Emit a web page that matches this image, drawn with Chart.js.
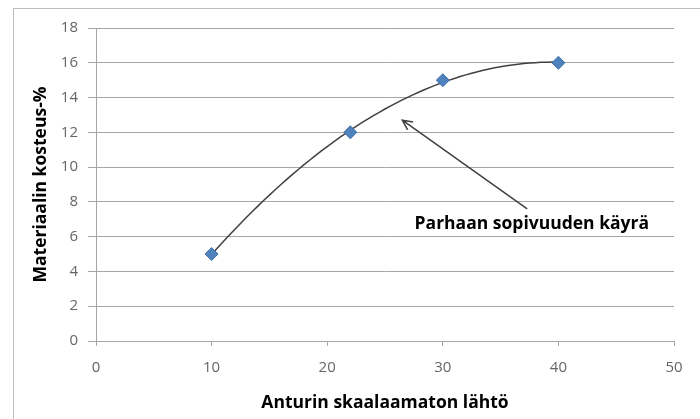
<!DOCTYPE html>
<html>
<head>
<meta charset="utf-8">
<script src="https://cdn.jsdelivr.net/npm/chart.js@4"></script>
<style>
  html, body { margin: 0; padding: 0; background: #fff; }
  #wrap { width: 700px; height: 419px; position: relative; }
</style>
</head>
<body>
<div id="wrap"><canvas id="myChart"></canvas></div>
<script>
// measured points
const sensorOutput = [10, 22, 30, 40];
const moisture = [5, 12, 15, 16];
const xTicks = [0, 10, 20, 30, 40, 50];
const yTicks = [0, 2, 4, 6, 8, 10, 12, 14, 16, 18];

const fontFamily = '"Open Sans", sans-serif';

// least squares 2nd order fit, like an Excel polynomial trendline
function quadFit(xs, ys) {
  let s = [0, 0, 0, 0, 0], t = [0, 0, 0];
  for (let i = 0; i < xs.length; i++) {
    let p = 1;
    for (let k = 0; k < 5; k++) { s[k] += p; if (k < 3) t[k] += p * ys[i]; p *= xs[i]; }
  }
  const m = [[s[0], s[1], s[2], t[0]], [s[1], s[2], s[3], t[1]], [s[2], s[3], s[4], t[2]]];
  for (let c = 0; c < 3; c++) {
    for (let r = c + 1; r < 3; r++) {
      const f = m[r][c] / m[c][c];
      for (let k = c; k < 4; k++) m[r][k] -= f * m[c][k];
    }
  }
  const b = [0, 0, 0];
  for (let r = 2; r >= 0; r--) {
    let v = m[r][3];
    for (let k = r + 1; k < 3; k++) v -= m[r][k] * b[k];
    b[r] = v / m[r][r];
  }
  return x => b[0] + b[1] * x + b[2] * x * x;
}

const fit = quadFit(sensorOutput, moisture);
const trend = [];
const x0 = sensorOutput[0], x1 = sensorOutput[sensorOutput.length - 1];
for (let i = 0; i <= 60; i++) {
  const x = x0 + (x1 - x0) * i / 60;
  trend.push({x: x, y: fit(x)});
}

// annotation (data coordinates)
const arrowTail = {x: 37.3, y: 7.6};
const arrowTip = {x: 26.5, y: 12.7};
const labelPos = {x: 37.7, y: 6.75};
const labelText = 'Parhaan sopivuuden käyrä';

const frame = {
  id: 'frame',
  beforeDraw(chart) {
    const ctx = chart.ctx;
    ctx.save();
    ctx.fillStyle = '#fff';
    ctx.fillRect(0, 0, chart.width, chart.height);
    ctx.strokeStyle = '#bfbfbf';
    ctx.lineWidth = 1;
    ctx.strokeRect(13.5, 8.5, chart.width + 20, chart.height + 20);
    ctx.restore();
  }
};

const note = {
  id: 'note',
  afterDatasetsDraw(chart) {
    const ctx = chart.ctx, xs = chart.scales.x, ys = chart.scales.y;
    const tx = xs.getPixelForValue(arrowTail.x), ty = ys.getPixelForValue(arrowTail.y);
    const hx = xs.getPixelForValue(arrowTip.x), hy = ys.getPixelForValue(arrowTip.y);
    ctx.save();
    ctx.strokeStyle = '#404040';
    ctx.lineWidth = 1.5;
    ctx.beginPath();
    ctx.moveTo(tx, ty);
    ctx.lineTo(hx, hy);
    const a = Math.atan2(ty - hy, tx - hx);
    const len = 11;
    ctx.moveTo(hx + len * Math.cos(a - 0.45), hy + len * Math.sin(a - 0.45));
    ctx.lineTo(hx, hy);
    ctx.lineTo(hx + len * Math.cos(a + 0.45), hy + len * Math.sin(a + 0.45));
    ctx.stroke();
    ctx.fillStyle = '#000';
    ctx.font = 'bold 17.5px ' + fontFamily;
    ctx.textAlign = 'center';
    ctx.textBaseline = 'middle';
    ctx.fillText(labelText, xs.getPixelForValue(labelPos.x), ys.getPixelForValue(labelPos.y));
    ctx.restore();
  }
};

const data = {
  datasets: [{
    label: 'Mittaukset',
    data: sensorOutput.map((x, i) => ({x: x, y: moisture[i]})),
    showLine: false,
    pointStyle: 'rectRot',
    pointRadius: 6.5,
    pointBackgroundColor: '#4f81bd',
    pointBorderColor: '#3d6fa8',
    pointBorderWidth: 1,
    order: 1
  }, {
    label: 'Trendi',
    data: trend,
    showLine: true,
    pointRadius: 0,
    borderColor: '#404040',
    borderWidth: 1.5,
    tension: 0,
    order: 2
  }]
};

const config = {
  type: 'scatter',
  data: data,
  plugins: [frame, note],
  options: {
    responsive: false,
    animation: false,
    layout: { padding: { left: 0, top: 28, right: 26, bottom: 0 } },
    plugins: { legend: { display: false }, tooltip: { enabled: false } },
    scales: {
      x: {
        type: 'linear',
        min: 0, max: 50,
        afterBuildTicks: s => { s.ticks = xTicks.map(v => ({value: v})); },
        afterFit: s => { s.height = 78; },
        grid: { drawOnChartArea: false, drawTicks: true, tickLength: 5, color: '#a6a6a6' },
        border: { color: '#a6a6a6' },
        ticks: { color: '#666666', font: { family: fontFamily, size: 15 }, padding: 13, maxRotation: 0 },
        title: { display: true, text: 'Anturin skaalaamaton lähtö', color: '#000',
                 font: { family: fontFamily, size: 17.5, weight: 'bold' }, padding: { top: 0, bottom: 5 } }
      },
      y: {
        type: 'linear',
        min: 0, max: 18,
        afterBuildTicks: s => { s.ticks = yTicks.map(v => ({value: v})); },
        afterFit: s => { s.width = 96; },
        grid: { color: '#a6a6a6', tickLength: 8 },
        border: { color: '#a6a6a6' },
        ticks: { color: '#666666', font: { family: fontFamily, size: 15 }, padding: 10 },
        title: { display: true, text: 'Materiaalin kosteus-%', color: '#000',
                 font: { family: fontFamily, size: 17.5, weight: 'bold' }, padding: { top: 31, bottom: 0 } }
      }
    }
  }
};

const canvas = document.getElementById('myChart');
canvas.width = 700;
canvas.height = 419;
var myChart = new Chart(canvas, config);
</script>
</body>
</html>
